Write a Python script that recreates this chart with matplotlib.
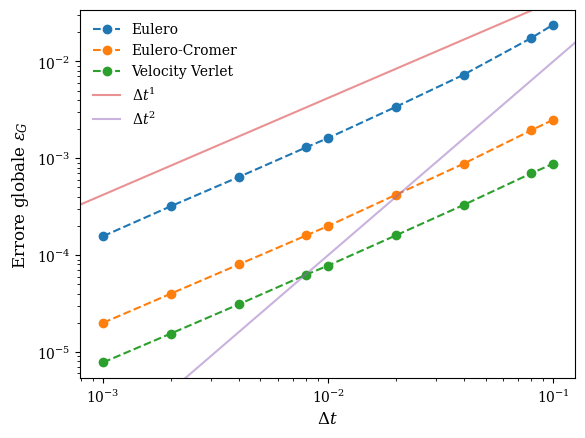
import numpy as np
import matplotlib
matplotlib.use("Agg")
import matplotlib.pyplot as plt

plt.rcParams["font.family"] = "DejaVu Serif"
plt.rcParams["mathtext.fontset"] = "dejavuserif"

dt = [0.001, 0.002, 0.004, 0.008, 0.01, 0.02, 0.04, 0.08, 0.1]
eulero = [1.57e-4, 3.2e-4, 6.4e-4, 1.3e-3, 1.62e-3, 3.4e-3, 7.3e-3, 1.75e-2, 2.4e-2]
cromer = [2.0e-5, 4.0e-5, 8.0e-5, 1.6e-4, 2.0e-4, 4.2e-4, 8.8e-4, 1.95e-3, 2.5e-3]
verlet = [7.8e-6, 1.55e-5, 3.1e-5, 6.3e-5, 7.8e-5, 1.6e-4, 3.3e-4, 7.0e-4, 8.8e-4]
C1, C2 = 0.42, 1.0

fig, ax = plt.subplots(figsize=(5.85, 4.39), dpi=100)
ax.plot(dt, eulero, "o--", label="Eulero")
ax.plot(dt, cromer, "o--", label="Eulero-Cromer")
ax.plot(dt, verlet, "o--", label="Velocity Verlet")
xx = np.logspace(np.log10(7.9e-4), np.log10(0.125), 200)
ax.plot(xx, C1 * xx, color="tab:red", alpha=0.5, label=r"$\Delta t^1$")
ax.plot(xx, C2 * xx**2, color="tab:purple", alpha=0.5, label=r"$\Delta t^2$")
ax.set_xscale("log")
ax.set_yscale("log")
ax.set_xlim(7.9e-4, 0.125)
ax.set_ylim(5.4e-6, 3.4e-2)
ax.set_xlabel(r"$\Delta t$", fontsize=12)
ax.set_ylabel(r"Errore globale $\epsilon_G$", fontsize=12)
ax.legend(frameon=False)
fig.subplots_adjust(left=0.137, right=0.983, top=0.975, bottom=0.137)
fig.savefig("out.png")
